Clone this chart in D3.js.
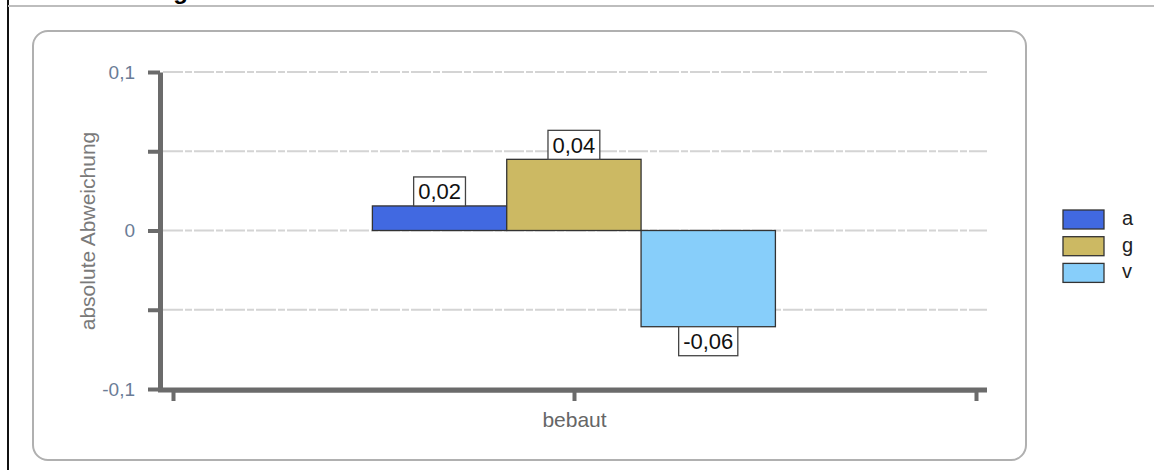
<!DOCTYPE html>
<html>
<head>
<meta charset="utf-8">
<script src="https://cdn.jsdelivr.net/npm/d3@7"></script>
<style>
  html, body { margin: 0; padding: 0; background: #fff; }
  svg { display: block; font-family: "Liberation Sans", Arial, sans-serif; }
</style>
</head>
<body>
<svg id="chart" width="1154" height="470"></svg>
<script>
const titleText = "Abweichung";
const categories = ["bebaut"];
const seriesNames = ["a", "g", "v"];
const seriesValues = [0.0155, 0.0449, -0.0607];
const seriesColors = ["#4169e1", "#ccb963", "#87cefa"];
const yTicks = [-0.1, -0.05, 0, 0.05, 0.1];
const yTickLabels = ["-0,1", "", "0", "", "0,1"];
const yAxisTitle = "absolute Abweichung";

const svg = d3.select("#chart");
const fmt = v => d3.format(".2f")(v).replace(".", ",").replace("\u2212", "-");

// page frame lines
svg.append("line").attr("x1", 8).attr("x2", 8).attr("y1", 0).attr("y2", 470)
  .attr("stroke", "#111").attr("stroke-width", 2);
svg.append("line").attr("x1", 8).attr("x2", 1154).attr("y1", 6).attr("y2", 6)
  .attr("stroke", "#bdbdbd").attr("stroke-width", 2);
svg.append("text").attr("x", 188).attr("y", -1).attr("text-anchor", "end")
  .attr("font-size", 24).attr("font-weight", "bold").attr("fill", "#000").text(titleText);

// panel
svg.append("rect").attr("x", 33).attr("y", 31).attr("width", 993).attr("height", 429)
  .attr("rx", 15).attr("fill", "#fff").attr("stroke", "#b0b0b0").attr("stroke-width", 2);

const y = d3.scaleLinear().domain([-0.1, 0.1]).range([389, 72]);
const x = d3.scaleBand().domain(categories).range([173, 976]).paddingInner(0).paddingOuter(0);
const xs = d3.scaleBand().domain(seriesNames)
  .range([x(categories[0]) + x.bandwidth() * 0.2483, x(categories[0]) + x.bandwidth() * 0.7502]);

// gridlines
svg.append("g").selectAll("line").data(yTicks.filter(t => t > -0.1)).join("line")
  .attr("x1", 163).attr("x2", 987)
  .attr("y1", d => y(d)).attr("y2", d => y(d))
  .attr("stroke", "#d4d4d4").attr("stroke-width", 2).attr("stroke-dasharray", "20,2,7,2");

// bars
const bars = svg.append("g");
bars.selectAll("rect").data(seriesValues).join("rect")
  .attr("x", (d, i) => xs(seriesNames[i]))
  .attr("width", xs.bandwidth())
  .attr("y", d => y(Math.max(0, d)))
  .attr("height", d => Math.abs(y(d) - y(0)))
  .attr("fill", (d, i) => seriesColors[i])
  .attr("stroke", "#333").attr("stroke-width", 1.3);

// data labels
const labels = svg.append("g");
seriesValues.forEach((v, i) => {
  const cx = xs(seriesNames[i]) + xs.bandwidth() / 2;
  const g = labels.append("g");
  const t = g.append("text").attr("x", cx).attr("text-anchor", "middle")
    .attr("font-size", 22).attr("fill", "#111").text(fmt(v));
  const w = t.node().getComputedTextLength() + 9;
  const h = 29;
  const top = v >= 0 ? y(v) - h : y(v);
  g.insert("rect", "text").attr("x", cx - w / 2).attr("y", top).attr("width", w).attr("height", h)
    .attr("fill", "#fff").attr("stroke", "#444").attr("stroke-width", 1.3);
  t.attr("y", top + h / 2 + 8);
});

// y axis
const yAxis = d3.axisLeft(y).tickValues(yTicks).tickSize(12).tickSizeOuter(0)
  .tickFormat((d, i) => yTickLabels[i]);
const ga = svg.append("g").attr("transform", "translate(160,0)").call(yAxis);
ga.attr("font-size", 19);
ga.select(".domain").attr("stroke", "#6b6b6b").attr("stroke-width", 5);
ga.selectAll(".tick line").attr("stroke", "#6b6b6b").attr("stroke-width", 4);
ga.selectAll(".tick text").attr("font-size", 19).attr("fill", "#6a7c96")
  .attr("font-family", "Liberation Sans, Arial, sans-serif").attr("x", -25);

// x axis baseline
svg.append("line").attr("x1", 158).attr("x2", 987).attr("y1", y(-0.1) + 1).attr("y2", y(-0.1) + 1)
  .attr("stroke", "#6b6b6b").attr("stroke-width", 5);
const xAxis = d3.axisBottom(x).tickSize(11).tickSizeOuter(11).tickPadding(11);
const gx = svg.append("g").attr("transform", `translate(0,${y(-0.1) + 1})`).call(xAxis);
gx.attr("font-size", 21);
gx.select(".domain").attr("stroke", "#6b6b6b").attr("stroke-width", 4).attr("fill", "none");
gx.selectAll(".tick line").attr("stroke", "#6b6b6b").attr("stroke-width", 4);
gx.selectAll(".tick text").attr("font-size", 21).attr("fill", "#666")
  .attr("font-family", "Liberation Sans, Arial, sans-serif");

// y axis title
svg.append("text").attr("transform", "translate(95,231) rotate(-90)")
  .attr("text-anchor", "middle").attr("font-size", 21).attr("fill", "#7a7a7a").text(yAxisTitle);

// legend
const lg = svg.append("g");
seriesNames.forEach((n, i) => {
  const yy = 210 + i * 26.7;
  lg.append("rect").attr("x", 1063).attr("y", yy).attr("width", 41).attr("height", 19)
    .attr("fill", seriesColors[i]).attr("stroke", "#333").attr("stroke-width", 1.3);
  lg.append("text").attr("x", 1122).attr("y", yy + 15).attr("font-size", 20).attr("fill", "#222").text(n);
});
</script>
</body>
</html>
